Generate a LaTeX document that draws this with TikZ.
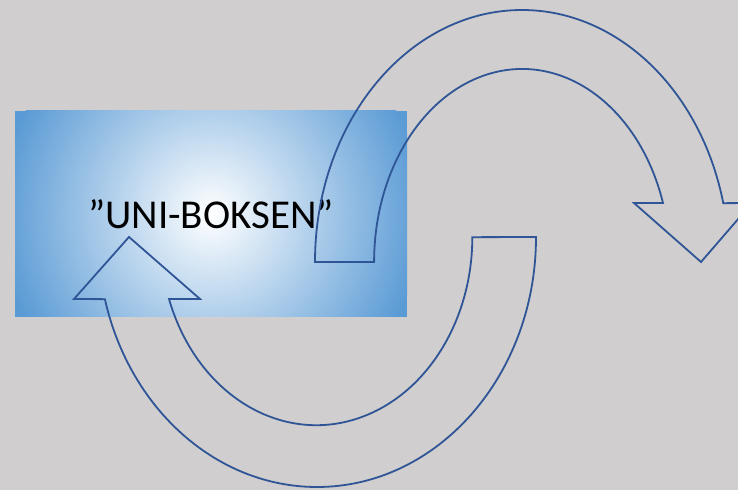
\documentclass[tikz,border=0pt]{standalone}
\usepackage{fontspec}
\setmainfont{Carlito}
\definecolor{bggray}{HTML}{D0CECE}
\definecolor{boxblue}{HTML}{5B9BD5}
\definecolor{arrowblue}{HTML}{2F5597}
\tikzset{
    unibox/.style={minimum width=392pt, minimum height=206pt, inner sep=0pt,
        font=\fontsize{41}{49}\selectfont,
        path picture={
            \fill[boxblue] (path picture bounding box.south west) rectangle (path picture bounding box.north east);
            \shade[inner color=white, outer color=boxblue] (path picture bounding box.center) circle (212);
        }},
    looparrow/.style={draw=arrowblue, line width=1.8pt, line join=miter}
}
\begin{document}
\begin{tikzpicture}[x=1pt,y=1pt]
            % Background
            \fill[bggray] (0,0) rectangle (738,490);
            \useasboundingbox (0,0) rectangle (738,490);
            % The box with its text
            \node[unibox] (box) at (211,276) {”UNI-BOKSEN”};
            % Upper arrow, going right
            \draw[looparrow] (315,228) arc[start angle=180, end angle=13.5, x radius=207, y radius=252]
                -- (752,287) -- (701,228) -- (634,287) -- (663,287)
                arc[start angle=17.8, end angle=180, x radius=148, y radius=193] -- cycle;
            % Lower arrow, going back to the box
            \draw[looparrow] (536,253) arc[start angle=0, end angle=-165.6, x radius=219, y radius=250]
                -- (74,191) -- (129,253) -- (200,191) -- (169,191)
                arc[start angle=-160.8, end angle=0, x radius=156, y radius=188] -- cycle;
        \end{tikzpicture}
\end{document}
